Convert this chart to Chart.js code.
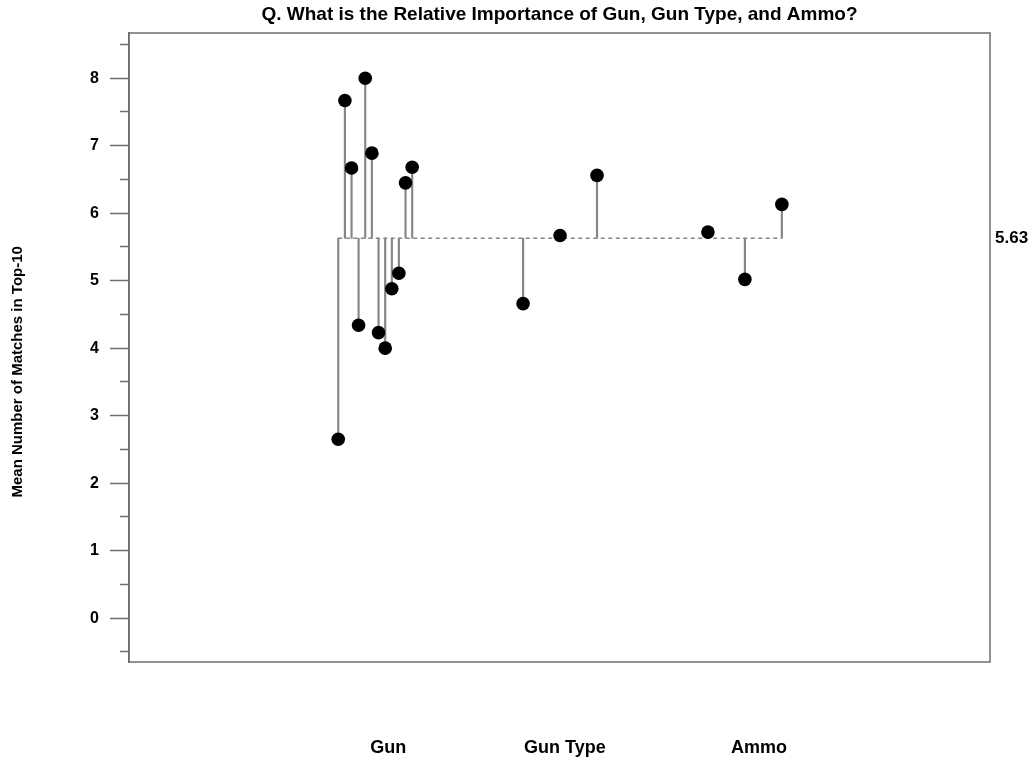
<!DOCTYPE html>
<html>
<head>
<meta charset="utf-8">
<script src="https://cdn.jsdelivr.net/npm/chart.js@4.4.1/dist/chart.umd.min.js"></script>
<style>
  html, body { margin: 0; padding: 0; background: #ffffff; }
  #wrap { width: 1034px; height: 762px; }
</style>
</head>
<body>
<div id="wrap"><canvas id="c" width="1034" height="762"></canvas></div>
<script>
// Text
const chartTitle = 'Q. What is the Relative Importance of Gun, Gun Type, and Ammo?';
const yAxisTitle = 'Mean Number of Matches in Top-10';

// Groups along the x axis and where their names sit
const categories = ['Gun', 'Gun Type', 'Ammo'];
const categoryLabelPos = [1.35, 6.13, 11.38];

// Positions and mean matches for each item
const gunPos = [0, 0.18, 0.36, 0.55, 0.73, 0.91, 1.09, 1.27, 1.45, 1.64, 1.82, 2];
const gunValues = [2.65, 7.67, 6.67, 4.34, 8.00, 6.89, 4.23, 4.00, 4.88, 5.11, 6.45, 6.68];
const gunTypePos = [5, 6, 7];
const gunTypeValues = [4.66, 5.67, 6.56];
const ammoPos = [10, 11, 12];
const ammoValues = [5.72, 5.02, 6.13];

// Grand mean used as the reference line
const baseline = 5.63;

// Y axis ticks
const yMajorTicks = [0, 1, 2, 3, 4, 5, 6, 7, 8];
const yMinorTicks = [-0.5, 0.5, 1.5, 2.5, 3.5, 4.5, 5.5, 6.5, 7.5, 8.5];

// Axis ranges
const xMin = -5.66, xMax = 17.63;
const yMin = -0.65, yMax = 8.67;
// Value on the y scale where the axis title is centred
const yTitleAt = 3.65;

const FONT = "'Liberation Sans', Arial, Helvetica, sans-serif";
const AXIS_GREY = '#6e6e6e';
const STEM_GREY = '#868686';

Chart.defaults.font.family = FONT;
Chart.defaults.color = '#000';

const points = [
  ...gunPos.map((x, i) => ({ x, y: gunValues[i] })),
  ...gunTypePos.map((x, i) => ({ x, y: gunTypeValues[i] })),
  ...ammoPos.map((x, i) => ({ x, y: ammoValues[i] }))
];
const stems = points.map(p => ({ x: p.x, y: [baseline, p.y] }));
const meanLine = [
  { x: points[0].x, y: baseline },
  { x: points[points.length - 1].x, y: baseline }
];

// Plot frame plus the rotated y-axis title
const framePlugin = {
  id: 'frame',
  beforeDatasetsDraw(chart) {
    const { ctx, chartArea: a } = chart;
    ctx.save();
    ctx.strokeStyle = AXIS_GREY;
    ctx.lineWidth = 1.5;
    ctx.strokeRect(a.left, a.top, a.right - a.left, a.bottom - a.top);
    ctx.restore();
  },
  afterDraw(chart) {
    const { ctx } = chart;
    const yScale = chart.scales.y;
    ctx.save();
    ctx.translate(18, yScale.getPixelForValue(yTitleAt));
    ctx.rotate(-Math.PI / 2);
    ctx.font = 'bold 15px ' + FONT;
    ctx.fillStyle = '#000';
    ctx.textAlign = 'center';
    ctx.textBaseline = 'middle';
    ctx.fillText(yAxisTitle, 0, 0);
    ctx.restore();
  }
};

new Chart(document.getElementById('c'), {
  type: 'scatter',
  data: {
    datasets: [
      {
        type: 'scatter',
        data: points,
        pointRadius: 6.8,
        pointHoverRadius: 6.8,
        backgroundColor: '#000',
        borderWidth: 0,
        order: 0
      },
      {
        type: 'bar',
        data: stems,
        backgroundColor: STEM_GREY,
        borderWidth: 0,
        barThickness: 1.5,
        order: 1
      },
      {
        type: 'line',
        data: meanLine,
        borderColor: STEM_GREY,
        borderWidth: 1.5,
        borderDash: [4, 3.5],
        pointRadius: 0,
        fill: false,
        order: 2
      }
    ]
  },
  options: {
    responsive: false,
    animation: false,
    events: [],
    layout: { padding: 0 },
    plugins: {
      legend: { display: false },
      tooltip: { enabled: false },
      title: {
        display: true,
        text: chartTitle,
        fullSize: false,
        color: '#000',
        font: { size: 19, weight: 'bold', lineHeight: 1.2 },
        padding: { top: 3, bottom: 7.2 }
      }
    },
    scales: {
      x: {
        type: 'linear',
        min: xMin,
        max: xMax,
        offset: false,
        afterBuildTicks: s => { s.ticks = categoryLabelPos.map(v => ({ value: v })); },
        afterFit: s => { s.height = 100; },
        grid: { display: false, drawTicks: false, offset: false },
        border: { display: false },
        ticks: {
          autoSkip: false,
          maxRotation: 0,
          padding: 75,
          color: '#000',
          font: { size: 18, weight: 'bold' },
          callback: (v, i) => categories[i]
        }
      },
      y: {
        type: 'linear',
        position: 'left',
        min: yMin,
        max: yMax,
        afterBuildTicks: s => {
          s.ticks = [...yMinorTicks, ...yMajorTicks].sort((a, b) => a - b).map(v => ({ value: v }));
        },
        afterFit: s => { s.width = 129; },
        grid: {
          drawOnChartArea: false,
          drawTicks: true,
          tickLength: 19,
          tickWidth: 1.5,
          tickColor: AXIS_GREY,
          tickBorderDash: c => (c.tick && yMinorTicks.includes(c.tick.value)) ? [0, 10, 100] : []
        },
        border: { display: true, color: AXIS_GREY, width: 1.5 },
        ticks: {
          autoSkip: false,
          padding: 11,
          color: '#000',
          font: { size: 16, weight: 'bold' },
          callback: v => yMajorTicks.includes(v) ? String(v) : ''
        }
      },
      y2: {
        type: 'linear',
        position: 'right',
        min: yMin,
        max: yMax,
        afterBuildTicks: s => { s.ticks = [{ value: baseline }]; },
        afterFit: s => { s.width = 44; },
        grid: { display: false, drawTicks: false },
        border: { display: false },
        ticks: {
          padding: 5,
          color: '#000',
          font: { size: 17, weight: 'bold' },
          callback: v => v.toFixed(2)
        }
      }
    }
  },
  plugins: [framePlugin]
});
</script>
</body>
</html>
